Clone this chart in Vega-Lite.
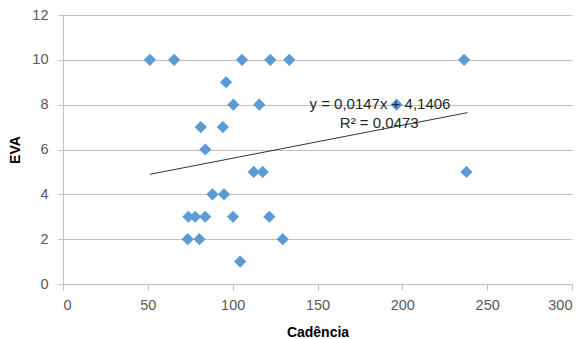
{
  "$schema": "https://vega.github.io/schema/vega-lite/v6.json",
  "width": 509,
  "height": 269,
  "autosize": "none",
  "padding": {"left": 63, "top": 15, "right": 15, "bottom": 55},
  "background": "white",
  "config": {
    "view": {"stroke": null},
    "font": "Liberation Sans"
  },
  "datasets": {
    "pts": [
      {"cad": 51.2, "eva": 10}, {"cad": 65.5, "eva": 10}, {"cad": 105.5, "eva": 10}, {"cad": 122.2, "eva": 10}, {"cad": 133.4, "eva": 10}, {"cad": 236.4, "eva": 10},
      {"cad": 96.1, "eva": 9},
      {"cad": 100.4, "eva": 8}, {"cad": 115.7, "eva": 8}, {"cad": 196.6, "eva": 8},
      {"cad": 81.2, "eva": 7}, {"cad": 94.2, "eva": 7},
      {"cad": 83.9, "eva": 6},
      {"cad": 112.4, "eva": 5}, {"cad": 117.7, "eva": 5}, {"cad": 237.8, "eva": 5},
      {"cad": 88.1, "eva": 4}, {"cad": 94.9, "eva": 4},
      {"cad": 73.9, "eva": 3}, {"cad": 77.9, "eva": 3}, {"cad": 83.8, "eva": 3}, {"cad": 100.2, "eva": 3}, {"cad": 121.6, "eva": 3},
      {"cad": 73.5, "eva": 2}, {"cad": 80.4, "eva": 2}, {"cad": 129.5, "eva": 2},
      {"cad": 104.4, "eva": 1}
    ],
    "trend": [
      {"cad": 51.2, "eva": 4.893},
      {"cad": 238.4, "eva": 7.645}
    ],
    "labels": [
      {"cad": 186.8, "eva": 8.04, "t": "y = 0,0147x + 4,1406"},
      {"cad": 186.4, "eva": 7.19, "t": "R² = 0,0473"}
    ]
  },
  "layer": [
    {
      "data": {"name": "pts"},
      "mark": {"type": "point", "shape": "diamond", "filled": true, "size": 150, "color": "#5B9BD5", "opacity": 1},
      "encoding": {
        "x": {
          "field": "cad", "type": "quantitative",
          "scale": {"domain": [0, 300], "nice": false, "zero": true},
          "axis": {
            "title": "Cadência", "values": [0, 50, 100, 150, 200, 250, 300],
            "grid": false, "domainColor": "#bfbfbf", "tickColor": "#bfbfbf", "tickSize": 6,
            "labelFontSize": 14.5, "labelColor": "#595959", "labelPadding": 8,
            "titleFontSize": 14, "titleFontWeight": "bold", "titleColor": "#000000", "titlePadding": 14,
            "labelFont": "Liberation Sans", "titleFont": "Liberation Sans"
          }
        },
        "y": {
          "field": "eva", "type": "quantitative",
          "scale": {"domain": [0, 12], "nice": false},
          "axis": {
            "title": "EVA", "values": [0, 2, 4, 6, 8, 10, 12],
            "grid": true, "gridColor": "#bfbfbf", "domainColor": "#bfbfbf", "tickColor": "#bfbfbf", "tickSize": 5,
            "labelFontSize": 14.5, "labelColor": "#595959", "labelPadding": 10,
            "titleFontSize": 14, "titleFontWeight": "bold", "titleColor": "#000000", "titlePadding": 9,
            "labelFont": "Liberation Sans", "titleFont": "Liberation Sans"
          }
        }
      }
    },
    {
      "data": {"name": "trend"},
      "mark": {"type": "line", "color": "#000000", "strokeWidth": 0.8},
      "encoding": {
        "x": {"field": "cad", "type": "quantitative"},
        "y": {"field": "eva", "type": "quantitative"}
      }
    },
    {
      "data": {"name": "labels"},
      "mark": {"type": "text", "fontSize": 15, "color": "#262626", "align": "center", "baseline": "middle", "font": "Liberation Sans"},
      "encoding": {
        "x": {"field": "cad", "type": "quantitative"},
        "y": {"field": "eva", "type": "quantitative"},
        "text": {"field": "t"}
      }
    }
  ]
}
